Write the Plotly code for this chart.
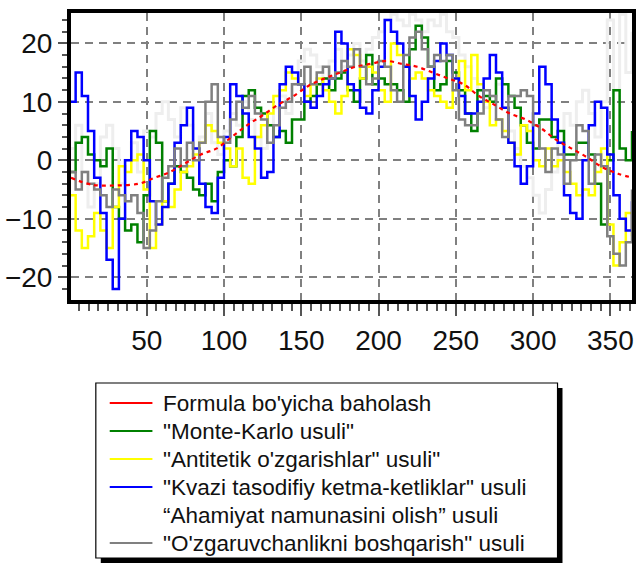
import plotly.graph_objects as go

# ---- data ----
days = list(range(0, 365, 4))  # 0,4,...,364  (92 points)

monte_karlo = [-2, 3, 4, 1, 0, -1, 2, -8, -10, -12,
               -11, -14, -6, 5, 3, -7, -4, -1, -2, -3,
               -5, -6, -4, -7, -2, 0, -1, 4, 11, 12,
               9, 8, 6, 4, 5, 3, 7, 7, 10, 11,
               13, 14, 12, 14, 15, 12, 10, 14, 18, 13,
               14, 13, 13, 12, 10, 19, 23, 21, 16, 12,
               13, 17, 15, 12, 8, 5, 12, 11, 10, 14,
               13, 11, 9, 6, 3, 2, 7, 7, 4, 5,
               1, 1, 3, 3, 1, -4, -11, 0, 12, 2,
               0, 5]

antitetik = [-6, -12, -15, -13, -9, -12, -15, -8, -1, -2,
             0, 1, -5, -15, -11, -7, -8, -5, -2, -1,
             1, 3, 6, 5, 3, 2, -1, 2, -3, -4,
             4, 6, 8, 11, 12, 15, 14, 13, 11, 13,
             14, 12, 10, 8, 11, 19, 18, 14, 16, 15,
             12, 10, 20, 18, 16, 14, 15, 14, 12, 11,
             10, 9, 14, 17, 12, 18, 13, 10, 6, 7,
             5, 3, 1, 6, 5, 0, -1, 2, -1, 0,
             -2, -4, -6, -5, -6, -2, 2, -11, -18, -14,
             -9, -13]

kvazi = [10, 15, 11, 5, -3, -9, -17, -22, -10, 0,
         5, 4, 0, -7, -11, -8, -4, 3, 6, 9,
         2, -4, -8, -9, -3, 4, 13, 11, 8, 4,
         2, -3, -2, 4, 13, 16, 15, 13, 10, 9,
         11, 13, 14, 22, 20, 13, 12, 9, 8, 12,
         16, 24, 22, 20, 16, 11, 7, 10, 14, 17,
         20, 18, 14, 11, 8, 8, 10, 14, 18, 15,
         9, 3, -1, -4, -1, 8, 16, 13, 7, 3,
         -6, -9, -10, 0, 6, 10, 9, 1, -6, -10,
         -12, -7]

ahamiyat = [2, 6, -2, -8, -4, 4, 6, 2, -4, 0,
            3, -2, 5, 4, 8, 10, 7, 4, 9, 6,
            2, 4, 8, 3, 1, 5, 8, 6, 10, 7,
            4, 2, 6, 9, 11, 8, 13, 17, 19, 18,
            16, 14, 17, 19, 16, 18, 20, 17, 19, 21,
            22, 24, 25, 24, 23, 25, 24, 22, 24, 23,
            25, 22, 21, 18, 16, 14, 12, 9, 11, 13,
            9, 5, 2, -1, -3, -6, -9, -5, -2, 3,
            8, 6, 10, 12, 8, 4, 10, 24, 12, 25,
            15, 22]

ozgaruvchan = [-2, -5, -2, -4, -5, -6, -8, -5, -6, -7,
               -6, -9, -15, -12, -7, -3, -1, 2, -1, 3,
               0, 3, 10, 13, 4, 3, 7, 10, 9, 11,
               8, 7, 3, 6, 9, 10, 13, 13, 16, 13,
               15, 16, 14, 15, 17, 16, 19, 16, 13, 14,
               17, 16, 12, 10, 18, 21, 22, 19, 16, 18,
               17, 18, 12, 7, 6, 6, 8, 12, 11, 7,
               4, 11, 11, 12, 11, 6, 2, -2, 2, 1,
               -4, 0, 6, 5, -4, 1, -1, -13, -16, -18,
               -14, -5]

formula_days = [1, 15, 30, 45, 55, 65, 75, 85, 95, 105, 115, 125, 135, 145,
                155, 165, 175, 185, 195, 205, 215, 225, 235, 245, 255, 265,
                275, 285, 295, 305, 315, 325, 335, 345, 355, 365]
formula = [-3, -4.2, -4.3, -4, -3, -2, -0.5, 1, 2, 4, 6, 7.7, 9.5, 11,
           12.8, 14, 15, 16, 16.5, 17, 16.5, 16, 15, 14, 13, 11,
           9.5, 8, 7, 5.5, 3.5, 2, 0.5, -1.2, -2.3, -3]

x_ticks = [50, 100, 150, 200, 250, 300, 350]
y_ticks = [-20, -10, 0, 10, 20]

legend_names = ["Formula bo'yicha baholash",
                '"Monte-Karlo usuli"',
                '"Antitetik o\'zgarishlar" usuli"',
                '"Kvazi tasodifiy ketma-ketliklar" usuli',
                '\u201cAhamiyat namunasini olish\u201d usuli',
                '"O\'zgaruvchanlikni boshqarish" usuli']
legend_colors = ["#ff0000", "#008000", "#ffff00", "#0000ff", "#ffffff", "#808080"]

# ---- figure ----
fig = go.Figure()

W, H = 639, 563
L, R, T, B = 71, 3, 13, 263
pw, ph = W - L - R, H - T - B


def px_x(p):
    return (p - L) / pw


def px_y(p):
    return (H - B - p) / ph


C_PALE, C_GREEN, C_YELLOW, C_BLUE, C_GRAY, C_RED = "#eeeeee", "#008000", "#ffff00", "#0000ff", "#808080", "#ff0000"

fig.add_trace(go.Scatter(x=days, y=ahamiyat, name=legend_names[4], mode="lines",
                         line=dict(color=C_PALE, width=3, shape="hv")))
fig.add_trace(go.Scatter(x=days, y=monte_karlo, name=legend_names[1], mode="lines",
                         line=dict(color=C_GREEN, width=2.5, shape="hv")))
fig.add_trace(go.Scatter(x=days, y=antitetik, name=legend_names[2], mode="lines",
                         line=dict(color=C_YELLOW, width=2.5, shape="hv")))
fig.add_trace(go.Scatter(x=days, y=kvazi, name=legend_names[3], mode="lines",
                         line=dict(color=C_BLUE, width=2.5, shape="hv")))
fig.add_trace(go.Scatter(x=days, y=ozgaruvchan, name=legend_names[5], mode="lines",
                         line=dict(color=C_GRAY, width=2.5, shape="hv")))
fig.add_trace(go.Scatter(x=formula_days, y=formula, name=legend_names[0], mode="lines",
                         line=dict(color=C_RED, width=2.2, dash="4px,4px", shape="spline")))

axis_common = dict(
    showgrid=True, gridcolor="#808080", gridwidth=2, griddash="8px,6px",
    showline=True, linecolor="black", linewidth=4, mirror=True,
    ticks="outside", tickcolor="#555555", tickwidth=2,
    zeroline=False,
    tickfont=dict(family="Arial, Liberation Sans", size=28, color="#111111"),
)

fig.update_xaxes(range=[1, 364], tickvals=x_ticks, ticklen=12,
                 minor=dict(dtick=6.25, tick0=0, ticklen=7, ticks="outside",
                            tickcolor="#555555", tickwidth=2, showgrid=False),
                 **axis_common)
fig.update_yaxes(range=[-23.9, 25.2], tickvals=y_ticks, ticklen=9,
                 minor=dict(dtick=2, tick0=0, ticklen=5, ticks="outside",
                            tickcolor="#555555", tickwidth=2, showgrid=False),
                 **axis_common)

# ---- hand-drawn legend box (with shadow) below the plot ----
box_l, box_r, box_t, box_b = 96, 561, 383, 558
shadow = 5
fig.add_shape(type="rect", xref="paper", yref="paper",
              x0=px_x(box_l + shadow), x1=px_x(box_r + shadow),
              y0=px_y(box_t + shadow), y1=px_y(box_b + shadow),
              fillcolor="black", line=dict(width=0))
fig.add_shape(type="rect", xref="paper", yref="paper",
              x0=px_x(box_l), x1=px_x(box_r), y0=px_y(box_t), y1=px_y(box_b),
              fillcolor="white", line=dict(color="black", width=1.2))

row_y = [403, 431, 459, 487, 515, 543]
for name, col, ry in zip(legend_names, legend_colors, row_y):
    fig.add_shape(type="line", xref="paper", yref="paper",
                  x0=px_x(110), x1=px_x(153), y0=px_y(ry), y1=px_y(ry),
                  line=dict(color=col, width=2))
    fig.add_annotation(xref="paper", yref="paper", x=px_x(162), y=px_y(ry),
                       xanchor="left", yanchor="middle", showarrow=False,
                       text=name,
                       font=dict(family="Arial, Liberation Sans", size=22.5, color="#111111"))

fig.update_layout(
    width=W, height=H,
    margin=dict(l=L, r=R, t=T, b=B),
    paper_bgcolor="white", plot_bgcolor="white",
    showlegend=False,
)

fig.write_html("out.html")
